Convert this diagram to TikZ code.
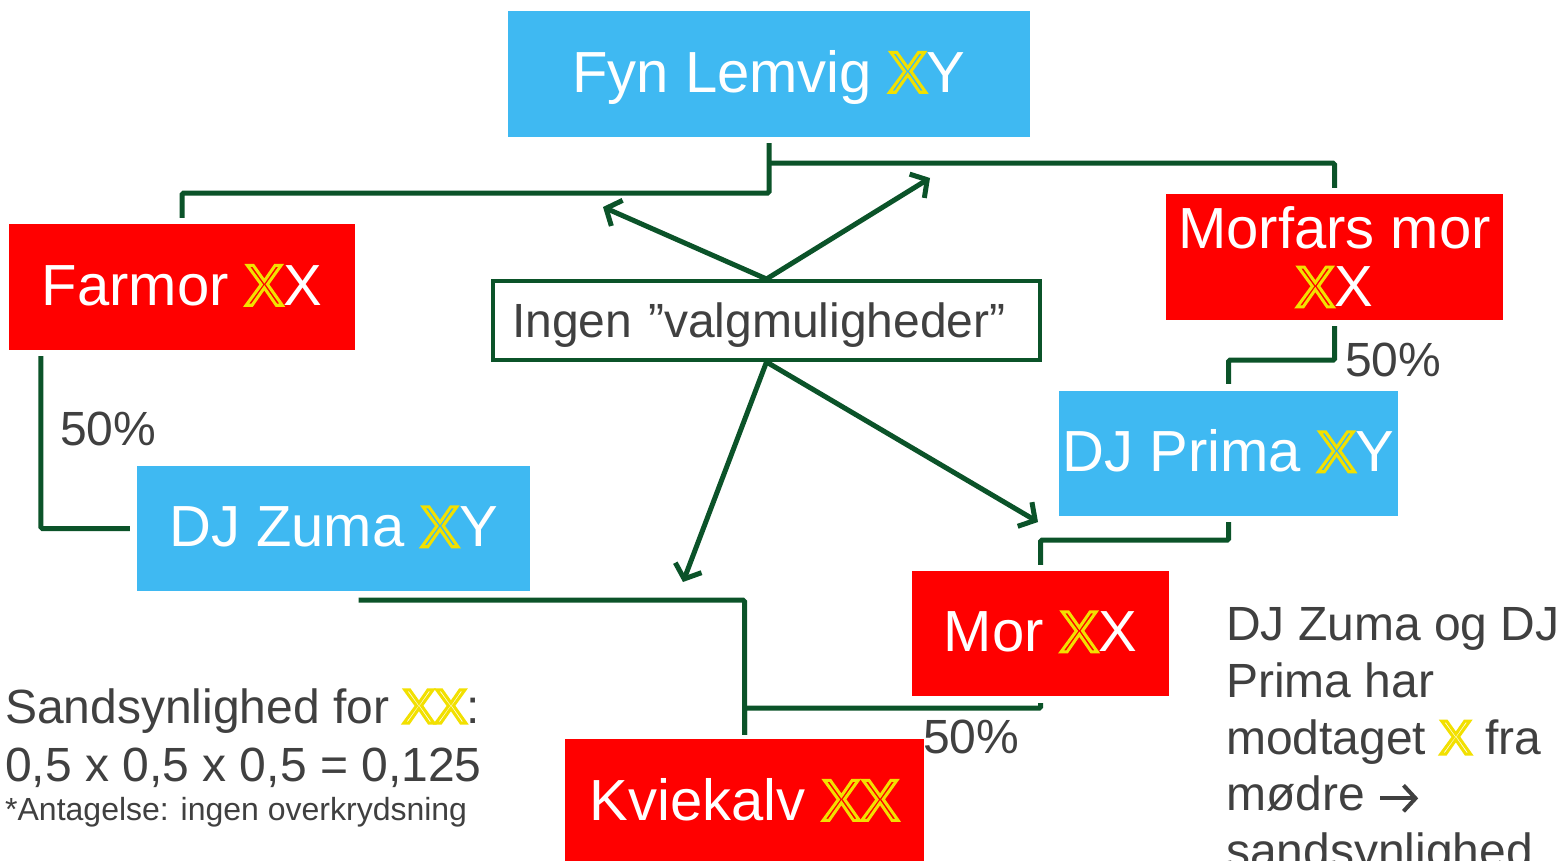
\documentclass[tikz,border=0pt]{standalone}
\usepackage{fontspec}
\setmainfont{Liberation Sans}
\usetikzlibrary{arrows.meta}
\definecolor{xblue}{HTML}{3FB9F2}
\definecolor{xred}{HTML}{FF0000}
\definecolor{xgreen}{HTML}{0B5329}
\definecolor{xgray}{HTML}{404040}
\definecolor{xyel}{HTML}{F2E000}
\newcommand\yX[1]{\leavevmode\special{pdf:bcontent}\special{pdf:literal direct 1 Tr 3 w 0 J 0 j 0.949 0.878 0 RG}X\special{pdf:econtent}}
\newcommand\rarr{\tikz[baseline=0pt]\draw[xgray, line width=4pt,
  -{Straight Barb[length=12pt,width=26pt,line width=4pt]}] (0pt,12.5pt) -- (38pt,12.5pt);}
\tikzset{
  gbox/.style={inner sep=0pt, text=white, font=\fontsize{58}{58}\selectfont,
    text height=41.5pt, text depth=5pt},
  bluebox/.style={gbox, fill=xblue},
  redbox/.style={gbox, fill=xred},
  conn/.style={draw=xgreen, line width=5pt, rounded corners=1.5pt},
  arr/.style={draw=xgreen, line width=5pt, line cap=round,
    -{Straight Barb[length=12pt,width=28pt,line width=5pt]}},
  lbl/.style={inner sep=0pt, text=xgray, font=\fontsize{48}{48}\selectfont, anchor=base west},
}
\begin{document}
\begin{tikzpicture}[x=1pt,y=-1pt]
\useasboundingbox (0,0) rectangle (1562,861);
\fill[white] (0,0) rectangle (1562,861);

\node[bluebox, minimum width=522pt, minimum height=126pt] (fyn) at (769,74) {Fyn Lemvig \yX{xblue}Y};
\node[redbox, minimum width=346pt, minimum height=126pt] (farmor) at (182,287) {Farmor \yX{xred}X};
\node[redbox, minimum width=337pt, minimum height=126pt, text height=, text depth=, align=center]
  (morfars) at (1334.5,257) {Morfars mor\\\yX{xred}X};
\node[bluebox, minimum width=393pt, minimum height=125pt] (zuma) at (333.5,528.5) {DJ Zuma \yX{xblue}Y};
\node[bluebox, minimum width=339pt, minimum height=125pt] (prima) at (1228.5,453.5) {DJ Prima \yX{xblue}Y};
\node[redbox, minimum width=257pt, minimum height=125pt] (mor) at (1040.5,633.5) {Mor \yX{xred}X};
\node[redbox, minimum width=359pt, minimum height=126pt] (kvie) at (744.5,802) {Kviekalv \yX{xred}\yX{xred}};
\node[draw=xgreen, line width=4pt, fill=white, inner xsep=19pt, inner ysep=0pt,
  text width=509pt, align=left, minimum height=79pt, text=xgray,
  font=\fontsize{48}{48}\selectfont, text height=34.4pt, text depth=0pt]
  (ingen) at (766.5,320.5) {Ingen ”valgmuligheder”};

% pedigree connectors
\draw[conn] ([yshift=-6pt]fyn.south) -- ++(0,50) -| ([yshift=6pt]farmor.north);
\draw[conn] ([yshift=-26pt]fyn.south) -| ([yshift=6pt]morfars.north);
\draw[conn] ([xshift=32pt,yshift=-6pt]farmor.south west) |- ([xshift=-7pt]zuma.west);
\draw[conn] ([xshift=25pt,yshift=-9pt]zuma.south) -| ([yshift=4pt]kvie.north);
\draw[conn] ([yshift=-7pt]mor.south) -- ++(0,5) -| ([yshift=4pt]kvie.north);
\draw[conn] ([yshift=-6pt]prima.south) -- ++(0,18) -| ([yshift=6pt]mor.north);
\draw[conn] ([yshift=-6pt]morfars.south) -- ++(0,34) -| ([yshift=7pt]prima.north);

% arrows
\coordinate (t1) at (603,207);
\coordinate (t2) at (930,178);
\coordinate (t3) at (683,582);
\coordinate (t4) at (1038,522);
\draw[arr] (ingen.north) -- (t1);
\draw[arr] (ingen.north) -- (t2);
\draw[arr] (ingen.south) -- (t3);
\draw[arr] (ingen.south) -- (t4);

% labels
\node[lbl] (p1) at (60,445) {50\%};
\node[lbl] (p2) at (1345,376) {50\%};
\node[lbl] (p3) at (923,753) {50\%};

\node[lbl] (s1) at (5,723) {Sandsynlighed for \yX{white}\yX{white}:};
\node[lbl] (s2) at (5,781) {0,5 x 0,5 x 0,5 = 0,125};
\node[lbl, font=\fontsize{32}{32}\selectfont] (s3) at (5,820) {*Antagelse: ingen overkrydsning};

\node[inner sep=0pt, text=xgray, font=\fontsize{48}{56.7}\selectfont, anchor=north west, align=left]
  (note) at (1226,607.5) {DJ Zuma og DJ\\Prima har\\modtaget \yX{white} fra\\mødre \rarr\\sandsynlighed};
\end{tikzpicture}
\end{document}
